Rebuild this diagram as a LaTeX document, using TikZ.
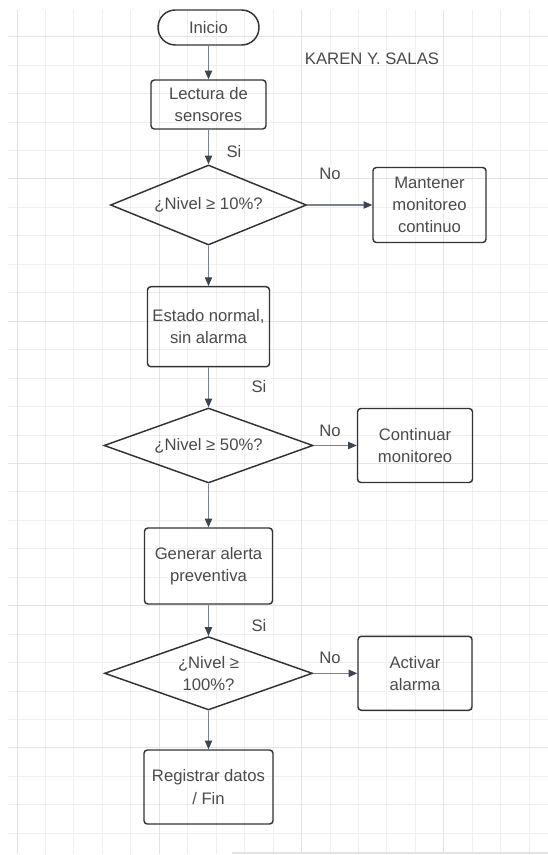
\documentclass[tikz,border=0pt]{standalone}
\usepackage{fontspec}
\setmainfont{Liberation Sans}
\usetikzlibrary{shapes.geometric,arrows.meta}
\definecolor{linegray}{HTML}{7B828D}
\definecolor{tipgray}{HTML}{3E4552}
\definecolor{txtgray}{HTML}{4A4A4A}
\definecolor{gridminor}{HTML}{EFEFEF}
\definecolor{gridmajor}{HTML}{E3E3E3}
\begin{document}
\begin{tikzpicture}[x=0.75pt, y=-0.75pt, every node/.style={inner sep=0cm, text=txtgray, align=center, font=\fontsize{12.5}{16.7}\selectfont},
	box/.style={rectangle, draw=black!80, line width=1.1pt, rounded corners=2.5pt},
	decision/.style={diamond, aspect=2.8, draw=black!80, line width=1.1pt},
	flow/.style={draw=linegray, line width=0.8pt, -{Triangle[length=6.5pt,width=5.5pt,color=tipgray]}}]
					\useasboundingbox (0,0) rectangle (548,855);
					% grid
					\foreach \k in {0,...,18} \draw[gridminor, line width=0.75pt] ({17+28.46*\k},10) -- ({17+28.46*\k},854);
					\foreach \k in {0,...,28} \draw[gridminor, line width=0.75pt] (7.5,{36.7+28.45*\k}) -- (548,{36.7+28.45*\k});
					\foreach \k in {0,5,10,15} \draw[gridmajor, line width=0.75pt] ({17+28.46*\k},10) -- ({17+28.46*\k},854);
					\foreach \k in {0,5,10,15,20,25} \draw[gridmajor, line width=0.75pt] (7.5,{36.7+28.45*\k}) -- (548,{36.7+28.45*\k});
					\draw[gridmajor, line width=1.2pt] (232,853) -- (548,853);
					
					\node (1) at (208.5,27.5) [box, rounded corners=13pt, minimum width=75.75pt, minimum height=26.25pt] {Inicio};
					\node (2) at (208.5,104.5) [box, minimum width=86.25pt, minimum height=36.75pt] {Lectura de\\sensores};
					\node (3) at (208.5,205) [decision, minimum width=147pt, minimum height=60pt] {¿Nivel ≥ 10\%?};
					\node (4) at (429.5,205) [box, minimum width=84.75pt, minimum height=56.25pt] {Mantener\\monitoreo\\continuo};
					\node (5) at (208.5,326.7) [box, minimum width=91.5pt, minimum height=60pt] {Estado normal,\\sin alarma};
					\node (6) at (208.5,445.5) [decision, minimum width=156.75pt, minimum height=56.25pt] {¿Nivel ≥ 50\%?};
					\node (7) at (415,445.5) [box, minimum width=86.25pt, minimum height=55.5pt] {Continuar\\monitoreo};
					\node (8) at (208.5,566) [box, minimum width=96pt, minimum height=57pt] {Generar alerta\\preventiva};
					\node (9) at (208.5,673.3) [decision, minimum width=156pt, minimum height=55pt] {¿Nivel ≥\\100\%?};
					\node (10) at (415,673.3) [box, minimum width=85.5pt, minimum height=55.5pt] {Activar\\alarma};
					\node (11) at (208.5,787) [box, minimum width=96.75pt, minimum height=55.5pt] {Registrar datos\\/ Fin};
					
					\draw[flow] (1) -- (2);
					\draw[flow] (2) -- (3);
					\draw[flow] (3) -- (4);
					\draw[flow] (3) -- (5);
					\draw[flow] (5) -- (6);
					\draw[flow] (6) -- (7);
					\draw[flow] (6) -- (8);
					\draw[flow] (8) -- (9);
					\draw[flow] (9) -- (10);
					\draw[flow] (9) -- (11);
					
					\node (si1) at (234,152) {Si};
					\node (si2) at (259,387) {Si};
					\node (si3) at (259,626) {Si};
					\node (no1) at (330,174) {No};
					\node (no2) at (330,431) {No};
					\node (no3) at (330,658) {No};
					\node (autor) at (372,59) {KAREN Y. SALAS};
					
				\end{tikzpicture}
\end{document}
